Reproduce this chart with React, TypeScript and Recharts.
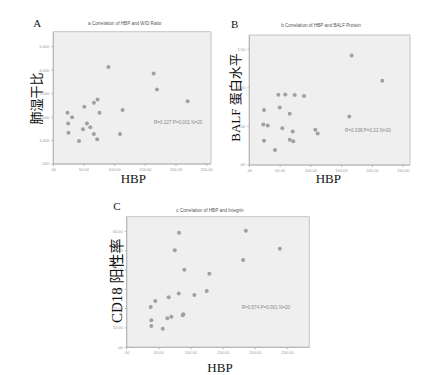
import React from "react";
import { ScatterChart, Scatter, XAxis, YAxis, ReferenceArea } from "recharts";

// Panel A: HBP vs lung wet/dry ratio
const hbpA = [23.2, 30.6, 24.2, 24.8, 41.9, 48.4, 50.6, 54.8, 60.3, 66.1, 66.1, 72.1, 71.6, 75.3, 89.8, 108.7, 112.9, 163.5, 168.9, 218.9];
const wdA = [2.18, 1.99, 1.73, 1.33, 0.98, 1.48, 2.44, 1.73, 1.57, 1.28, 2.61, 2.75, 1.05, 2.18, 4.14, 1.28, 2.3, 3.86, 3.18, 2.67];

// Panel B: HBP vs BALF protein
const hbpB = [166.2, 215.9, 47.1, 58.4, 73.7, 88.8, 23.9, 49.4, 65.6, 162.3, 22.7, 29.9, 53.6, 70.5, 107.1, 111.0, 23.9, 41.7, 65.6, 71.4];
const protB = [1.419, 1.094, 0.911, 0.915, 0.908, 0.895, 0.712, 0.746, 0.664, 0.629, 0.525, 0.512, 0.478, 0.434, 0.456, 0.408, 0.316, 0.195, 0.326, 0.309];

// Panel C: HBP vs CD18 positive rate
const hbpC = [81.5, 185.4, 74.8, 238.3, 181.2, 89.7, 128.7, 81.0, 65.4, 44.5, 105.3, 124.6, 37.4, 38.3, 38.3, 63.2, 69.5, 87.2, 88.2, 56.1];
const cd18C = [59.3, 60.3, 50.2, 51.0, 45.2, 40.1, 38.1, 27.9, 25.9, 24.0, 27.1, 29.1, 20.8, 14.0, 11.0, 15.0, 15.8, 16.6, 17.1, 9.6];

const xTicks = [0, 50, 100, 150, 200, 250];
const yTicksA = [0, 1, 2, 3, 4, 5];
const yTicksB = [0, 0.5, 1, 1.5];
const yTicksC = [0, 10, 20, 30, 40, 50, 60];

const titles = ["a Correlation of HBP and W/D Ratio", "b Correlation of HBP and BALF Protein", "c Correlation of HBP and Integrin"];
const stats = ["R=0.327 P=0.001 N=20", "R=0.338 P=0.22 N=20", "R=0.574 P=0.001 N=20"];
const yLabels = ["肺湿干比", "BALF 蛋白水平", "CD18 阳性率"];
const panelLetters = ["A", "B", "C"];

const build = (xs: number[], ys: number[]) => xs.map((x, i) => ({ x, y: ys[i] }));

const fmt = (v: number) => {
  const s = v.toFixed(2);
  return s.startsWith("0.") ? s.slice(1) : s;
};
const fmtA = (v: number) => {
  const s = v.toFixed(3);
  return s.startsWith("0.") ? s.slice(1) : s;
};

const dot = (p: any) => <circle cx={p.cx} cy={p.cy} r={2} fill="#a0a0a0" />;

type PanelProps = {
  data: { x: number; y: number }[];
  xMax: number;
  yMax: number;
  yTicks: number[];
  yFmt: (v: number) => string;
  width: number;
  height: number;
  margin: { top: number; right: number; bottom: number; left: number };
  yw: number;
};

function Panel({ data, xMax, yMax, yTicks, yFmt, width, height, margin, yw }: PanelProps) {
  const tickStyle = { fontSize: 4, fill: "#999", fontFamily: "Arial, sans-serif" };
  return (
    <ScatterChart width={width} height={height} margin={margin}>
      <XAxis
        type="number"
        dataKey="x"
        domain={[0, xMax]}
        ticks={xTicks}
        tickFormatter={fmt}
        tick={tickStyle}
        tickSize={2}
        height={10}
        stroke="#b5b5b5"
        allowDataOverflow
      />
      <YAxis
        type="number"
        dataKey="y"
        domain={[0, yMax]}
        ticks={yTicks}
        tickFormatter={yFmt}
        tick={tickStyle}
        tickSize={2}
        width={yw}
        stroke="#b5b5b5"
        allowDataOverflow
      />
      <ReferenceArea x1={0} x2={xMax} y1={0} y2={yMax} fill="#efefef" fillOpacity={1} stroke="#c4c4c4" strokeWidth={1} />
      <Scatter data={data} shape={dot} isAnimationActive={false} />
    </ScatterChart>
  );
}

export default function App() {
  const serif = "'Liberation Serif', 'DejaVu Serif', 'Noto Sans CJK SC', serif";
  return (
    <div style={{ position: "absolute", left: 0, top: 0, width: 427, height: 375, background: "#fff", overflow: "hidden" }}>
      <div style={{ position: "absolute", left: 0, top: 0 }}>
        <Panel
          data={build(hbpA, wdA)}
          xMax={257}
          yMax={5.64}
          yTicks={yTicksA}
          yFmt={fmtA}
          width={215}
          height={185}
          margin={{ top: 31.7, right: 4, bottom: 11, left: 35.3 }}
          yw={18}
        />
      </div>
      <div style={{ position: "absolute", left: 215, top: 0 }}>
        <Panel
          data={build(hbpB, protB)}
          xMax={260.9}
          yMax={1.686}
          yTicks={yTicksB}
          yFmt={fmt}
          width={212}
          height={185}
          margin={{ top: 35, right: 17, bottom: 10, left: 20.3 }}
          yw={14}
        />
      </div>
      <div style={{ position: "absolute", left: 100, top: 190 }}>
        <Panel
          data={build(hbpC, cd18C)}
          xMax={284.2}
          yMax={67.6}
          yTicks={yTicksC}
          yFmt={fmt}
          width={220}
          height={185}
          margin={{ top: 26.7, right: 10.7, bottom: 17.7, left: 12.7 }}
          yw={14}
        />
      </div>
      <svg width={427} height={375} style={{ position: "absolute", left: 0, top: 0, pointerEvents: "none" }}>
        <g fontFamily={serif} fill="#111">
          <text x={33.3} y={27.3} fontSize={11}>{panelLetters[0]}</text>
          <text x={231} y={27.7} fontSize={11}>{panelLetters[1]}</text>
          <text x={113.3} y={210} fontSize={11}>{panelLetters[2]}</text>
          <text x={133.3} y={183.3} fontSize={13} textAnchor="middle">HBP</text>
          <text x={328.3} y={183.3} fontSize={13} textAnchor="middle">HBP</text>
          <text x={220} y={371.5} fontSize={13} textAnchor="middle">HBP</text>
          <text x={36.7} y={98.5} fontSize={13} textAnchor="middle" dominantBaseline="central" transform="rotate(-90 36.7 98.5)">{yLabels[0]}</text>
          <text x={235} y={97.5} fontSize={13} textAnchor="middle" dominantBaseline="central" transform="rotate(-90 235 97.5)">{yLabels[1]}</text>
          <text x={116.7} y={280.8} fontSize={15} textAnchor="middle" dominantBaseline="central" transform="rotate(-90 116.7 280.8)">{yLabels[2]}</text>
        </g>
        <g fontFamily="Arial, 'Liberation Sans', sans-serif" fontSize={4.6} fill="#555">
          <text x={124.7} y={25} textAnchor="middle">{titles[0]}</text>
          <text x={321} y={27.3} textAnchor="middle">{titles[1]}</text>
          <text x={210} y={211.7} textAnchor="middle">{titles[2]}</text>
        </g>
        <g fontFamily="Arial, 'Liberation Sans', sans-serif" fontSize={4.6} fill="#888">
          <text x={154} y={123.7}>{stats[0]}</text>
          <text x={345} y={132.3}>{stats[1]}</text>
          <text x={241.7} y={309}>{stats[2]}</text>
        </g>
      </svg>
    </div>
  );
}
